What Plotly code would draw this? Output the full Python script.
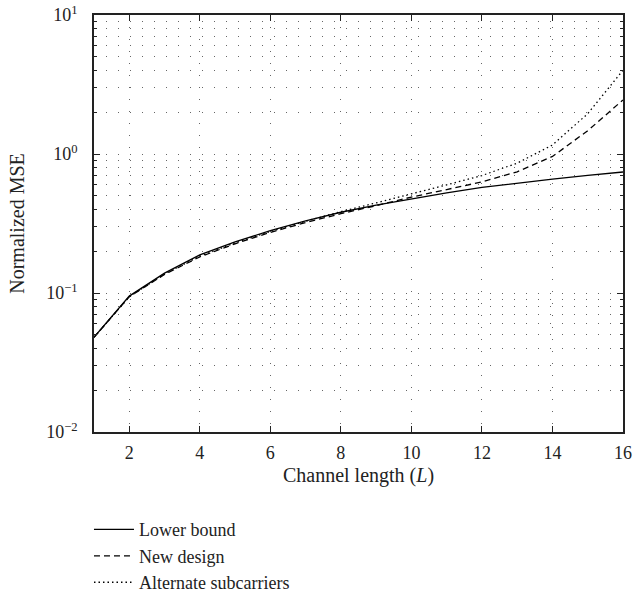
import plotly.graph_objects as go

L = list(range(1, 17))
lower_bound = [0.048, 0.095, 0.139, 0.188, 0.233, 0.281, 0.33, 0.381, 0.428, 0.476, 0.525, 0.575, 0.617, 0.659, 0.701, 0.742]
new_design = [0.048, 0.094, 0.136, 0.182, 0.226, 0.273, 0.321, 0.372, 0.425, 0.49, 0.555, 0.63, 0.745, 0.96, 1.47, 2.45]
alternate = [0.048, 0.094, 0.137, 0.184, 0.229, 0.277, 0.328, 0.385, 0.445, 0.52, 0.60, 0.70, 0.86, 1.16, 1.95, 4.0]

x_ticks = [2, 4, 6, 8, 10, 12, 14, 16]
y_major = [0.01, 0.1, 1, 10]
y_major_text = ["10<sup>−2</sup>", "10<sup>−1</sup>", "10<sup>0</sup>", "10<sup>1</sup>"]
y_minor = [k * d for d in (0.01, 0.1, 1) for k in range(2, 10)]

FONT = "Liberation Serif"
TXT = "#222222"
GRIDC = "#666666"
GDASH = "1px,11px"

fig = go.Figure()
fig.add_trace(go.Scatter(x=L, y=lower_bound, mode="lines", name="Lower bound",
                         line=dict(color="black", width=1.3)))
fig.add_trace(go.Scatter(x=L, y=new_design, mode="lines", name="New design",
                         line=dict(color="black", width=1.3, dash="6px,4px")))
fig.add_trace(go.Scatter(x=L, y=alternate, mode="lines", name="Alternate subcarriers",
                         line=dict(color="black", width=1.3, dash="1.5px,3px")))

fig.update_layout(
    width=634, height=592,
    margin=dict(l=94, r=11, t=15, b=160, autoexpand=False),
    plot_bgcolor="white", paper_bgcolor="white",
    font=dict(family=FONT, size=18, color=TXT),
    showlegend=True,
    legend=dict(x=-0.0095, y=-0.19, xanchor="left", yanchor="top",
                font=dict(family=FONT, size=18, color=TXT),
                tracegroupgap=0, itemwidth=40, bgcolor="rgba(0,0,0,0)"),
)

fig.update_xaxes(
    range=[1, 16], tickvals=x_ticks, ticks="inside", ticklen=6, tickcolor=TXT,
    showline=True, linecolor=TXT, linewidth=1.5, mirror="ticks",
    showgrid=True, gridcolor=GRIDC, gridwidth=1, griddash=GDASH,
    zeroline=False, ticklabelstandoff=4,
    title=dict(text="Channel length (<i>L</i>)", font=dict(family=FONT, size=20), standoff=6),
    tickfont=dict(family=FONT, size=18),
)
fig.update_yaxes(
    type="log", range=[-2, 1], tickvals=y_major, ticktext=y_major_text,
    ticks="inside", ticklen=6, tickcolor=TXT,
    showline=True, linecolor=TXT, linewidth=1.5, mirror="ticks",
    showgrid=True, gridcolor=GRIDC, gridwidth=1, griddash=GDASH,
    minor=dict(tickvals=y_minor, ticks="inside", ticklen=3, tickcolor=TXT,
               showgrid=True, gridcolor=GRIDC, gridwidth=1, griddash=GDASH),
    zeroline=False, ticklabelstandoff=11,
    title=dict(text="Normalized MSE", font=dict(family=FONT, size=20), standoff=16),
    tickfont=dict(family=FONT, size=18),
)

fig.write_html("out.html")
